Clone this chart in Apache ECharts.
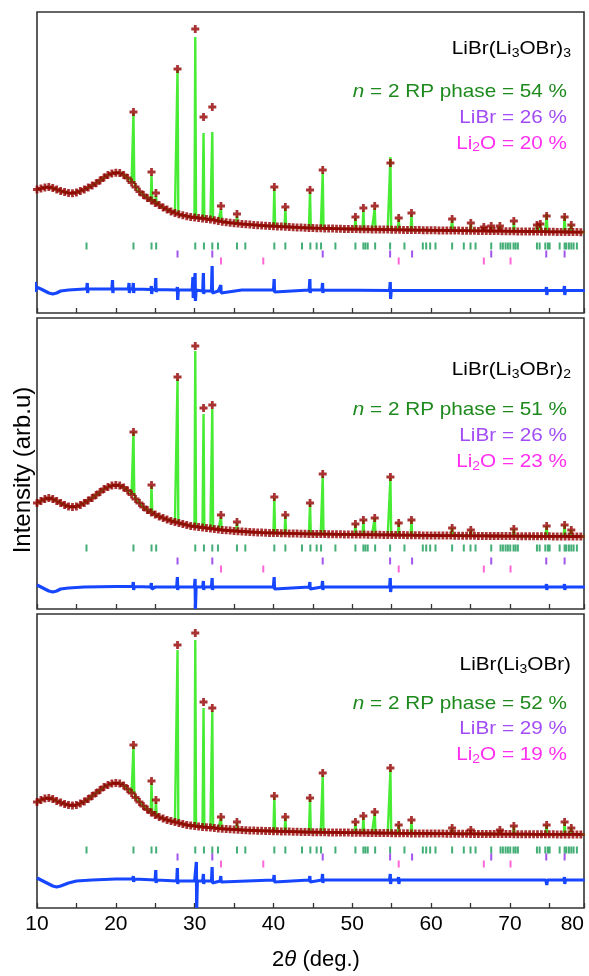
<!DOCTYPE html>
<html>
<head>
<meta charset="utf-8">
<script src="https://cdn.jsdelivr.net/npm/echarts@6/dist/echarts.min.js"></script>
<style>
  html, body { margin: 0; padding: 0; background: #fff; }
  #chart { width: 589px; height: 976px; }
</style>
</head>
<body>
<div id="chart"></div>
<script>
// background readings, 0.5 deg steps starting at 10 deg (arb. units)
var bgStart = 10, bgStep = 0.5;

var bg1 = [
  48.5, 49.5, 50.5, 51, 50, 48.5, 47, 46, 45, 44.7,
  45.5, 47, 48.5, 50.5, 52.5, 54.7, 57.5, 60.5, 63, 64.5,
  65.3, 65, 63, 60, 55.5, 51, 46.3, 43, 40, 37.5,
  35, 33, 30.5, 28.5, 26.5, 25, 23.7, 22.7, 21.8, 21,
  20.5, 20, 19.6, 19, 18.5, 17.8, 17, 16.3, 15.7, 15.2,
  14.8, 14.4, 14, 13.7, 13.4, 13.1, 12.8, 12.5, 12.2, 12,
  11.8, 11.6, 11.4, 11.2, 11, 10.8, 10.6, 10.4, 10.2, 10,
  9.9, 9.8, 9.7, 9.6, 9.5, 9.4, 9.3, 9.2, 9.1, 9,
  9, 8.9, 8.8, 8.8, 8.7, 8.6, 8.6, 8.5, 8.4, 8.4,
  8.3, 8.2, 8.2, 8.1, 8, 8, 7.9, 7.9, 7.8, 7.8,
  7.7, 7.7, 7.6, 7.6, 7.5, 7.5, 7.4, 7.4, 7.3, 7.3,
  7.2, 7.2, 7.1, 7.1, 7, 7, 6.9, 6.9, 6.8, 6.8,
  6.7, 6.7, 6.6, 6.6, 6.5, 6.5, 6.4, 6.4, 6.3, 6.3,
  6.2, 6.2, 6.1, 6.1, 6, 6, 5.9, 5.9, 5.8, 5.8
];
var bg2 = [
  31, 33, 35, 36, 35, 33, 31, 29, 27.5, 27,
  27.5, 29, 31, 33.5, 36, 39, 42, 45, 47, 48.5,
  49, 48.5, 46.5, 43.5, 39.5, 35, 31, 27, 24, 21.5,
  19.5, 17.5, 16, 14.5, 13, 12, 11, 10, 9, 8,
  7.5, 7, 6.5, 6, 5.5, 5, 4.5, 4, 3.7, 3.4,
  3, 2.8, 2.5, 2.3, 2, 1.8, 1.6, 1.4, 1.2, 1.1,
  1, 0.9, 0.8, 0.7, 0.6, 0.5, 0.4, 0.3, 0.2, 0.1,
  0, 0, -0.1, -0.1, -0.2, -0.2, -0.3, -0.3, -0.4, -0.4,
  -0.5, -0.5, -0.6, -0.6, -0.7, -0.7, -0.8, -0.8, -0.9, -0.9,
  -1, -1, -1.1, -1.1, -1.2, -1.2, -1.3, -1.3, -1.4, -1.4,
  -1.5, -1.5, -1.5, -1.6, -1.6, -1.6, -1.7, -1.7, -1.7, -1.8,
  -1.8, -1.8, -1.9, -1.9, -1.9, -2, -2, -2, -2.1, -2.1,
  -2.1, -2.1, -2.2, -2.2, -2.2, -2.2, -2.3, -2.3, -2.3, -2.3,
  -2.3, -2.4, -2.4, -2.4, -2.4, -2.5, -2.5, -2.5, -2.5, -2.5
];
var bg3 = [
  31, 33, 34.5, 35, 34, 32, 30.5, 29, 28, 27.5,
  28, 29.5, 31.5, 34, 37, 40, 43, 46, 48, 49.5,
  50, 49.5, 47.5, 44, 40, 35.5, 31, 27, 23.5, 20.5,
  18, 16, 14.5, 13, 12, 11, 10, 9, 8, 7.5,
  7, 6.5, 6, 5.7, 5.5, 5, 4.5, 4.2, 4, 3.7,
  3.5, 3.3, 3, 2.8, 2.6, 2.5, 2.3, 2.2, 2.1, 2,
  1.8, 1.7, 1.6, 1.5, 1.4, 1.3, 1.2, 1.1, 1, 0.9,
  0.8, 0.8, 0.7, 0.7, 0.6, 0.6, 0.5, 0.5, 0.4, 0.4,
  0.3, 0.3, 0.2, 0.2, 0.1, 0.1, 0, 0, -0.1, -0.1,
  -0.2, -0.2, -0.3, -0.3, -0.3, -0.4, -0.4, -0.4, -0.5, -0.5,
  -0.5, -0.6, -0.6, -0.6, -0.7, -0.7, -0.7, -0.8, -0.8, -0.8,
  -0.9, -0.9, -0.9, -1, -1, -1, -1, -1.1, -1.1, -1.1,
  -1.1, -1.2, -1.2, -1.2, -1.2, -1.2, -1.3, -1.3, -1.3, -1.3,
  -1.3, -1.3, -1.4, -1.4, -1.4, -1.4, -1.4, -1.4, -1.5, -1.5
];

// reflections: [2theta, observed top, calculated top]
var peaks1 = [
  [22.24, 126, 125], [24.53, 66, 63], [25.09, 45, 42], [27.83, 169, 168],
  [30.08, 209, 201], [31.13, 121, 105], [32.24, 131, 106], [33.34, 32, 29],
  [35.37, 24, 22], [40.11, 51, 50], [41.51, 31, 30], [44.64, 48, 46],
  [46.25, 68, 65], [50.40, 21, 20], [51.41, 30, 28], [52.85, 32, 30],
  [54.84, 75, 81], [55.89, 20, 19], [57.51, 25, 24], [62.67, 19, 18],
  [65.04, 15, 14], [66.69, 11, 11], [67.63, 12, 12], [68.73, 12, 12],
  [70.50, 17, 16], [73.43, 13, 13], [73.86, 14, 14], [74.66, 22, 24],
  [76.94, 21, 22], [77.79, 13, 13]
];
var peaks2 = [
  [22.24, 102, 102], [24.53, 49, 48], [27.83, 157, 155], [30.08, 188, 183],
  [31.13, 126, 120], [32.24, 129, 125], [33.34, 19, 17], [35.37, 12, 11],
  [40.11, 37, 36], [41.51, 19, 18], [44.64, 31, 30], [46.25, 60, 58],
  [50.40, 10, 10], [51.41, 14, 14], [52.85, 16, 16], [54.84, 57, 56],
  [55.89, 11, 11], [57.51, 14, 14], [62.67, 6, 6], [65.04, 4, 4],
  [70.50, 5, 5], [74.66, 8, 8], [76.94, 9, 9], [77.79, 4, 4]
];
var peaks3 = [
  [22.24, 88, 87], [24.53, 52, 50], [25.09, 33, 31], [27.83, 188, 183],
  [30.08, 200, 193], [31.13, 131, 125], [32.24, 125, 122], [33.34, 16, 15],
  [35.37, 11, 10], [40.11, 37, 36], [41.51, 16, 15], [44.64, 35, 34],
  [46.25, 60, 58], [50.40, 11, 10], [51.41, 17, 16], [52.85, 21, 20],
  [54.84, 65, 63], [55.89, 8, 8], [57.51, 13, 12], [62.67, 5, 5],
  [65.04, 3, 3], [68.73, 3, 3], [70.50, 7, 7], [74.66, 8, 8],
  [76.94, 11, 11], [77.79, 5, 5]
];

// difference curve: slowly varying level [2theta, value] and spikes [2theta, up, down]
var diffBase1 = [[10, 3], [10.5, 1], [11, -1], [11.5, -3], [12, -4], [12.5, -3], [13, -1], [14, 0], [16, 1], [20, 1], [25, 0.5], [29, 0], [33, -1], [36, 0], [45, 0], [60, -0.5], [79.5, -0.5]];
var diffSpikes1 = [[9.8, 8, -2], [16.4, 7, -3], [19.6, 10, -3], [21.7, 7, -3], [22.24, 7, -3], [24.53, 4, -4], [25.09, 12, -2], [27.83, 3, -10], [29.8, 13, -8], [30.08, 17, -11], [31.13, 17, -4], [32.24, 24, -3], [33.34, 5, -3], [40.11, 11, -2], [44.64, 11, -3], [46.25, 7, -3], [54.84, 8, -9], [74.66, 3, -5], [76.94, 4, -5]];
var diffBase2 = [[10, 2], [10.5, 0], [11, -2], [11.5, -4], [12, -5], [12.5, -4], [13, -2], [14, -1], [16, 0], [20, 0.5], [25, 0], [30, 0], [40, 0], [79.5, 0]];
var diffSpikes2 = [[22.24, 5, -3], [24.53, 4, -2], [27.83, 10, -3], [30.08, 8, -22], [31.13, 6, -3], [32.24, 9, -3], [40.11, 10, -2], [44.64, 5, -2], [46.25, 6, -3], [54.84, 9, -5], [74.66, 3, -3], [76.94, 3, -3]];
var diffBase3 = [[10, 2], [10.5, 0], [11, -2], [11.5, -4], [12, -6], [12.5, -7], [13, -6], [14, -3], [15, -1], [17, 0], [20, 1], [25, 0], [30, -1], [40, 0], [79.5, 0]];
var diffSpikes3 = [[22.24, 4, -2], [25.09, 10, -3], [27.83, 12, -4], [30.24, 18, -28], [31.13, 6, -4], [32.24, 13, -3], [33.34, 4, -2], [40.11, 5, -2], [44.64, 4, -2], [46.25, 6, -3], [54.84, 6, -4], [55.89, 3, -4], [74.66, 2, -5], [76.94, 3, -4]];

// Bragg positions of the three phases
var braggRP = [16.28, 22.24, 24.53, 25.12, 30.08, 31.18, 32.24, 32.96, 35.37, 36.43, 40.11, 41.51, 43.62, 44.68, 45.48, 46.04, 47.86, 50.40, 51.41, 51.67, 51.96, 52.90, 54.80, 56.62, 58.95, 59.38, 59.88, 60.56, 62.67, 64.15, 65.00, 65.64, 67.63, 68.81, 69.11, 69.45, 69.74, 70.04, 70.46, 70.72, 71.01, 73.43, 73.77, 74.49, 74.82, 75.04, 76.31, 76.94, 77.16, 77.49, 77.79, 78.08, 78.50];
var braggLiBr = [27.83, 32.24, 46.25, 54.80, 57.59, 67.63, 74.61, 76.94];
var braggLi2O = [33.34, 38.71, 55.89, 66.69, 70.08];

var tickLabels = ['10', '20', '30', '40', '50', '60', '70', '80'];
var sampleSub = ['3', '2', ''];
var fracRP = [54, 51, 52];
var fracLiBr = [26, 26, 29];
var fracLi2O = [20, 23, 19];

// ---- layout ----
var FONT = "'Liberation Sans', Arial, Helvetica, sans-serif";
var panels = [
  { top: 12, height: 301, yMin: -75, yMax: 226, diffAt: -52, rows: [-8, -16, -23], text: [49, 91.5, 117.5, 143.5] },
  { top: 318, height: 291, yMin: -75, yMax: 216, diffAt: -53, rows: [-14, -27, -35], text: [370, 410, 436, 462] },
  { top: 614, height: 294, yMin: -75, yMax: 219, diffAt: -47, rows: [-17, -24, -31], text: [665, 704, 729, 755] }
];
var bgs = [bg1, bg2, bg3];
var peaks = [peaks1, peaks2, peaks3];
var diffBases = [diffBase1, diffBase2, diffBase3];
var diffSpikes = [diffSpikes1, diffSpikes2, diffSpikes3];

function gridX(i) { return +(bgStart + i * bgStep).toFixed(2); }
function nearest(list, x) {
  var best = list[0];
  list.forEach(function (d) { if (Math.abs(d[0] - x) < Math.abs(best[0] - x)) best = d; });
  return best[1];
}
function obsPoints(bg, pk) {
  var pts = bg.map(function (v, i) { return [gridX(i), v]; });
  pk.forEach(function (p) { pts.push([p[0], p[1]]); });
  return pts;
}
function calcPoints(bg, pk) {
  var w = 0.1, pts = [];
  var bgPts = bg.map(function (v, i) { return [gridX(i), v]; });
  bgPts.forEach(function (d) {
    var close = pk.some(function (p) { return Math.abs(p[0] - d[0]) < w; });
    if (!close) pts.push(d);
  });
  pk.forEach(function (p) {
    var b = nearest(bgPts, p[0]);
    pts.push([p[0] - w, b], [p[0], p[2]], [p[0] + w, b]);
  });
  pts.sort(function (a, b) { return a[0] - b[0]; });
  return pts;
}
function diffPoints(base, spikes, at) {
  var w = 0.1, pts = [];
  base.forEach(function (d) {
    var close = spikes.some(function (s) { return Math.abs(s[0] - d[0]) < w; });
    if (!close) pts.push([d[0], d[1] + at]);
  });
  spikes.forEach(function (s) {
    var b = nearest(base, s[0]) + at;
    pts.push([s[0] - w, b], [s[0] - 0.02, s[1] + at], [s[0] + 0.02, s[2] + at], [s[0] + w, b]);
  });
  pts.sort(function (a, b) { return a[0] - b[0]; });
  return pts;
}
function rowPoints(list, y) { return list.map(function (x) { return [x, y]; }); }

var grids = [], xAxes = [], yAxes = [], series = [], graphics = [];
// "+" marker with heavier arms so neighbouring points merge into a band
var crossSymbol = 'path://M2.6,0H5.4V8H2.6ZM0,2.6H8V5.4H0Z';

panels.forEach(function (p, k) {
  grids.push({
    left: 37, right: 5, top: p.top, height: p.height,
    show: true, borderColor: '#333', borderWidth: 1.6, backgroundColor: 'transparent'
  });
  xAxes.push({
    gridIndex: k, type: 'value', min: 10, max: 79.4, interval: 5, position: 'bottom',
    axisLine: { show: false, onZero: false }, splitLine: { show: false },
    axisTick: { show: true, inside: true, length: 5, lineStyle: { color: '#333', width: 1.3 } },
    axisLabel: k === 2 ? {
      show: true, interval: 0, margin: 6, color: '#000', fontSize: 21, fontFamily: FONT,
      showMaxLabel: true, alignMaxLabel: 'right',
      formatter: function (v) {
        if (v > 79) return tickLabels[tickLabels.length - 1];
        return v % 10 === 0 ? tickLabels[(v - 10) / 10] : '';
      }
    } : { show: false }
  });
  yAxes.push({ gridIndex: k, type: 'value', min: p.yMin, max: p.yMax, show: false });

  series.push({
    type: 'line', xAxisIndex: k, yAxisIndex: k, data: calcPoints(bgs[k], peaks[k]),
    showSymbol: false, lineStyle: { color: '#48ec35', width: 2.4 }, z: 2, silent: true
  });
  series.push({
    type: 'scatter', xAxisIndex: k, yAxisIndex: k, data: obsPoints(bgs[k], peaks[k]),
    symbol: crossSymbol, symbolSize: 8, itemStyle: { color: '#930000' }, z: 3, silent: true
  });
  series.push({
    type: 'line', xAxisIndex: k, yAxisIndex: k, data: diffPoints(diffBases[k], diffSpikes[k], p.diffAt),
    showSymbol: false, lineStyle: { color: '#1646ff', width: 3.2 }, z: 2, silent: true
  });
  [[braggRP, '#159a55'], [braggLiBr, '#8a2be6'], [braggLi2O, '#ff3fd0']].forEach(function (b, j) {
    series.push({
      type: 'scatter', xAxisIndex: k, yAxisIndex: k, data: rowPoints(b[0], p.rows[j]),
      symbol: 'rect', symbolSize: [2, 7], itemStyle: { color: b[1] }, z: 2, silent: true
    });
  });

  var sub = { fontSize: 12.5, fontFamily: FONT, padding: [9, 0, 0, 0] };
  var main = { fontSize: 18.5, fontFamily: FONT };
  graphics.push({
    type: 'text', x: 571, y: p.text[0], scaleX: 1.12,
    style: {
      text: sampleSub[k] ? '{m|LiBr(Li}{s|3}{m|OBr)}{s|' + sampleSub[k] + '}' : '{m|LiBr(Li}{s|3}{m|OBr)}',
      rich: { m: Object.assign({ fill: '#000' }, main), s: Object.assign({ fill: '#000' }, sub) },
      textAlign: 'right', textVerticalAlign: 'middle'
    }
  });
  graphics.push({
    type: 'text', x: 567, y: p.text[1], scaleX: 1.12,
    style: {
      text: '{i|n}{m| = 2 RP phase = ' + fracRP[k] + ' %}',
      rich: { i: Object.assign({ fill: '#1e8a1e', fontStyle: 'italic' }, main), m: Object.assign({ fill: '#1e8a1e' }, main) },
      textAlign: 'right', textVerticalAlign: 'middle'
    }
  });
  graphics.push({
    type: 'text', x: 567, y: p.text[2], scaleX: 1.12,
    style: {
      text: '{m|LiBr = ' + fracLiBr[k] + ' %}',
      rich: { m: Object.assign({ fill: '#a24cf5' }, main) },
      textAlign: 'right', textVerticalAlign: 'middle'
    }
  });
  graphics.push({
    type: 'text', x: 567, y: p.text[3], scaleX: 1.12,
    style: {
      text: '{m|Li}{s|2}{m|O = ' + fracLi2O[k] + ' %}',
      rich: { m: Object.assign({ fill: '#ff2ef0' }, main), s: Object.assign({ fill: '#ff2ef0' }, sub) },
      textAlign: 'right', textVerticalAlign: 'middle'
    }
  });
});

graphics.push({
  type: 'text', x: 23, y: 470, rotation: Math.PI / 2,
  style: { text: 'Intensity (arb.u)', fill: '#000', font: '24px ' + FONT, textAlign: 'center', textVerticalAlign: 'middle' }
});
graphics.push({
  type: 'text', x: 316, y: 960,
  style: {
    text: '{m|2}{i|θ}{m| (deg.)}',
    rich: { m: { fontSize: 22, fontFamily: FONT, fill: '#000' }, i: { fontSize: 22, fontFamily: FONT, fill: '#000', fontStyle: 'italic' } },
    textAlign: 'center', textVerticalAlign: 'middle'
  }
});

var chart = echarts.init(document.getElementById('chart'), null, { renderer: 'canvas' });
chart.setOption({
  animation: false,
  backgroundColor: '#fff',
  grid: grids,
  xAxis: xAxes,
  yAxis: yAxes,
  series: series,
  graphic: graphics
});
</script>
</body>
</html>
